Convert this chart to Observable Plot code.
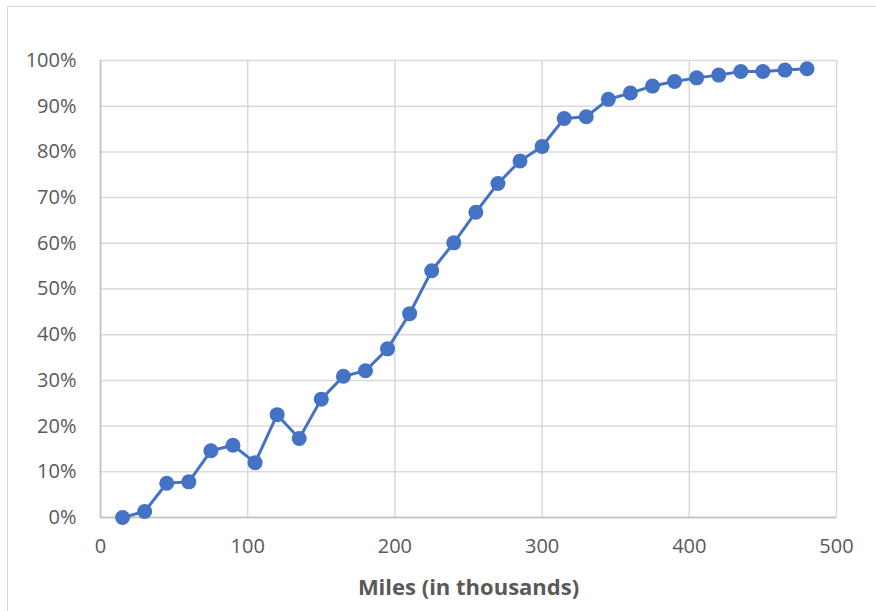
<!DOCTYPE html>
<html>
<head>
<meta charset="utf-8">
<script src="https://cdn.jsdelivr.net/npm/d3@7"></script>
<script src="https://cdn.jsdelivr.net/npm/@observablehq/plot@0.6"></script>
<style>
  html, body { margin: 0; padding: 0; background: #fff; }
  #wrap { position: relative; width: 876px; height: 611px; overflow: hidden; }
  #edge { position: absolute; left: 7px; top: 6px; width: 900px; height: 700px;
          border-left: 1.5px solid #d9d9d9; border-top: 1.5px solid #d9d9d9; pointer-events: none; }
  #chart { position: absolute; left: 0; top: 0; }
</style>
</head>
<body>
<div id="wrap"><div id="edge"></div><div id="chart"></div></div>
<script>
// Cumulative share (%) by mileage, in thousands of miles
const miles = [15, 30, 45, 60, 75, 90, 105, 120, 135, 150, 165, 180, 195, 210, 225, 240,
               255, 270, 285, 300, 315, 330, 345, 360, 375, 390, 405, 420, 435, 450, 465, 480];
const share = [0, 1.3, 7.5, 7.8, 14.6, 15.8, 12.0, 22.5, 17.3, 25.9, 30.9, 32.1, 36.9, 44.6, 54.0, 60.1,
               66.8, 73.1, 78.0, 81.2, 87.3, 87.7, 91.5, 92.9, 94.4, 95.4, 96.2, 96.8, 97.6, 97.6, 97.9, 98.2];
const xTicks = [0, 100, 200, 300, 400, 500];
const yTicks = [0, 10, 20, 30, 40, 50, 60, 70, 80, 90, 100];
const xTitle = "Miles (in thousands)";

const data = miles.map((m, i) => ({miles: m, share: share[i]}));
const blue = "#4472C4";
const font = "'Open Sans', 'DejaVu Sans', sans-serif";

const chart = Plot.plot({
  width: 876,
  height: 611,
  marginLeft: 100,
  marginRight: 40,
  marginTop: 60,
  marginBottom: 94,
  style: {fontFamily: font, fontSize: "20px", color: "#595959", background: "transparent"},
  x: {domain: [0, 500], ticks: xTicks},
  y: {domain: [0, 100], ticks: yTicks},
  marks: [
    Plot.gridX(xTicks, {stroke: "#d9d9d9", strokeOpacity: 1, strokeWidth: 1.5}),
    Plot.gridY(yTicks, {stroke: "#d9d9d9", strokeOpacity: 1, strokeWidth: 1.5}),
    Plot.ruleX([0], {stroke: "#bfbfbf", strokeWidth: 1.5}),
    Plot.ruleY([0], {stroke: "#bfbfbf", strokeWidth: 1.5}),
    Plot.axisX(xTicks, {tickSize: 0, tickPadding: 21, label: null, fill: "#595959", fontSize: 20}),
    Plot.axisY(yTicks, {tickSize: 0, tickPadding: 24, label: null, tickFormat: d => d + "%", fill: "#595959", fontSize: 20}),
    Plot.line(data, {x: "miles", y: "share", stroke: blue, strokeWidth: 3}),
    Plot.dot(data, {x: "miles", y: "share", r: 7.5, fill: blue, stroke: "none"}),
    Plot.text([xTitle], {frameAnchor: "bottom", dy: 77, fontWeight: "bold", fontSize: 22, fill: "#595959"})
  ]
});
document.getElementById("chart").appendChild(chart);
</script>
</body>
</html>
